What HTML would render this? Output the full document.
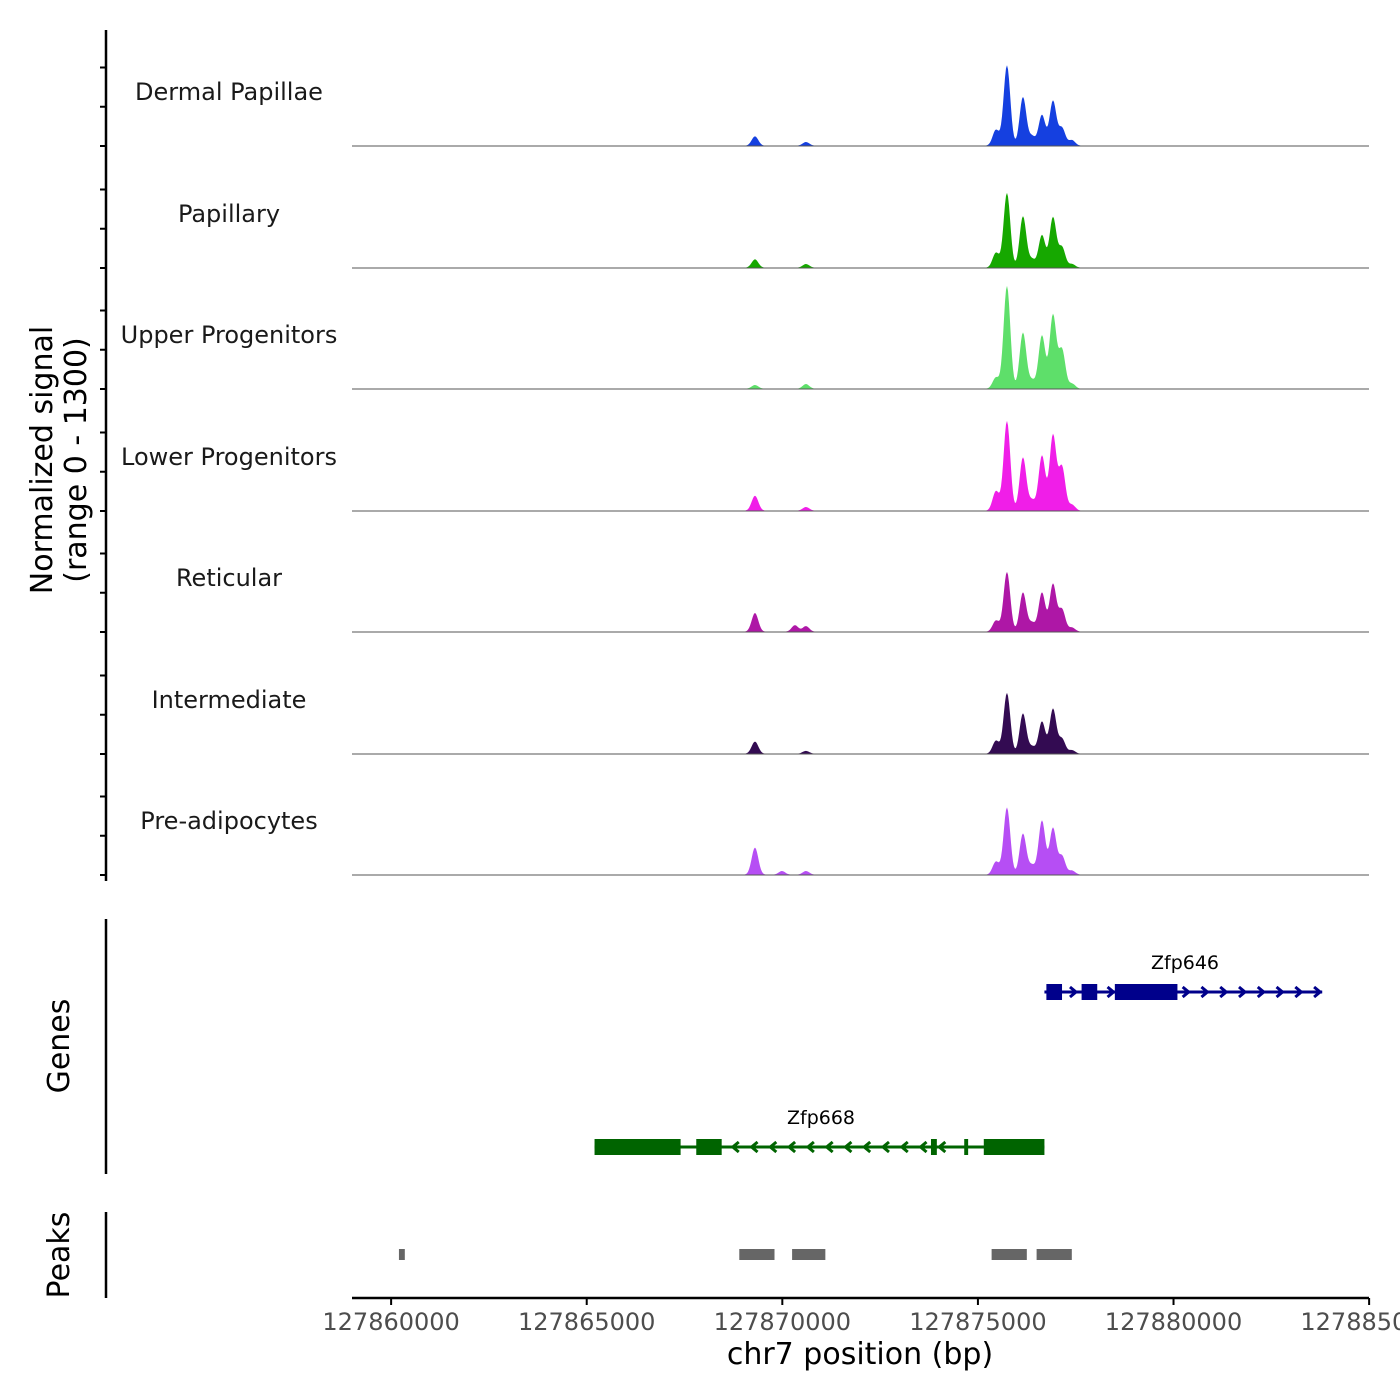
<!DOCTYPE html>
<html><head><meta charset="utf-8"><style>
body{margin:0;background:#fff}
svg{display:block;font-family:"DejaVu Sans","Liberation Sans",sans-serif}
</style></head><body>
<svg id="c" width="1400" height="1400"></svg>
<script>
const trackNames=["Dermal Papillae","Papillary","Upper Progenitors","Lower Progenitors","Reticular","Intermediate","Pre-adipocytes"];
const trackColors=["#1540E0","#16A800","#5EDF6A","#F01EE8","#AE17A6","#330B52","#B64EF4"];
const peakPos=[127869301,127869990,127870323,127870604,127875461,127875742,127876151,127876381,127876637,127876918,127877148,127877403];
const sigDP=[100,0,0,40,170,860,520,100,330,480,190,60];
const sigPap=[90,0,0,40,160,800,550,90,350,540,220,40];
const sigUpper=[40,0,0,50,120,1100,600,90,570,790,420,55];
const sigLower=[160,0,0,40,210,960,570,110,590,810,470,65];
const sigRet=[200,0,70,60,120,640,420,95,420,510,240,45];
const sigInt=[130,0,0,30,140,650,430,75,345,480,160,38];
const sigPre=[290,40,0,40,140,720,440,100,580,500,200,45];
const series=[sigDP,sigPap,sigUpper,sigLower,sigRet,sigInt,sigPre];
const xTicks=[127860000,127865000,127870000,127875000,127880000,127885000];
const gene646Exons=[[127876750,127877150],[127877650,127878050],[127878500,127880100]];
const gene646Range=[127876700,127883800];
const gene668Exons=[[127865200,127867400],[127867800,127868450],[127873800,127873950],[127874650,127874750],[127875150,127876700]];
const gene668Range=[127865200,127876700];
const peakRegions=[[127860200,127860350],[127868900,127869800],[127870250,127871100],[127875350,127876250],[127876500,127877400]];

const NS="http://www.w3.org/2000/svg",svg=document.getElementById('c');
function el(t,a,p){const e=document.createElementNS(NS,t);for(const k in a)e.setAttribute(k,a[k]);(p||svg).appendChild(e);return e;}
const X0=127859000,PX=195.6/5000;
function x(bp){return 352+(bp-X0)*PX;}
const baselines=[146,268,389,511,632,754,875],TH=121.5,YMAX=1300;
function y(v,i){return baselines[i]-v/YMAX*TH;}

let a=el('line',{x1:106,y1:30,x2:106,y2:881,stroke:'#000','stroke-width':2.5});

baselines.forEach((b,i)=>{[0,420,840].forEach(v=>{el('line',{x1:100,x2:106,y1:y(v,i),y2:y(v,i),stroke:'#000','stroke-width':2});});});
trackNames.forEach((n,i)=>{
 const g=el('g',{});
 
 
 const t=el('text',{x:229,y:baselines[i]-46,'text-anchor':'middle','font-size':24,fill:'#1a1a1a'},g);t.textContent=n;
 
 const pts=[];const vals=series[i];
 for(let px=352;px<=1369;px+=1){
  const bp=X0+(px-352)/PX;let v=3;
  peakPos.forEach((p,k)=>{const d=(bp-p)/85;v+=vals[k]*Math.exp(-d*d/2);});
  pts.push(px+','+y(v,i).toFixed(1));
 }
 const ar=el('polygon',{points:'352,'+baselines[i]+' '+pts.join(' ')+' 1369,'+baselines[i],fill:trackColors[i]},g);
 
 el('line',{x1:352,x2:1369,y1:baselines[i],y2:baselines[i],stroke:'#555','stroke-width':1},g);
});
function txt(s,at,name){const t=el('text',at);t.textContent=s;return t;}
txt('Normalized signal',{x:0,y:0,transform:'translate(52,460) rotate(-90)','text-anchor':'middle','font-size':30,fill:'#000'},'y-axis-title');
txt('(range 0 - 1300)',{x:0,y:0,transform:'translate(86,460) rotate(-90)','text-anchor':'middle','font-size':30,fill:'#000'},'y-axis-subtitle');
a=el('line',{x1:106,y1:919,x2:106,y2:1174,stroke:'#000','stroke-width':2.5});
txt('Genes',{x:0,y:0,transform:'translate(69,1046) rotate(-90)','text-anchor':'middle','font-size':30,fill:'#000'},'genes-title');
function gene(name,range,exons,yy,col,dir){
 const g=el('g',{});
 el('line',{x1:x(range[0]),x2:x(range[1]),y1:yy,y2:yy,stroke:col,'stroke-width':3},g);
 for(let bp=range[0]+250;bp<range[1];bp+=480){
  const cx=x(bp);let inEx=exons.some(e=>bp>=e[0]-100&&bp<=e[1]+100);if(inEx)continue;
  el('polyline',{points:`${cx-3*dir},${yy-5} ${cx+3*dir},${yy} ${cx-3*dir},${yy+5}`,fill:'none',stroke:col,'stroke-width':3},g);
 }
 exons.forEach(e=>{const r=el('rect',{x:x(e[0]),y:yy-8,width:Math.max(3,x(e[1])-x(e[0])),height:16,fill:col},g);});
 const t=el('text',{x:0,y:yy-23,'text-anchor':'middle','font-size':19,fill:'#000'},g);t.textContent=name;
 return t;
}
let t1=gene('Zfp646',gene646Range,gene646Exons,992,'#00008B',1);t1.setAttribute('x',1185);
let t2=gene('Zfp668',gene668Range,gene668Exons,1147,'#006400',-1);t2.setAttribute('x',821);
a=el('line',{x1:106,y1:1212,x2:106,y2:1298,stroke:'#000','stroke-width':2.5});
txt('Peaks',{x:0,y:0,transform:'translate(69,1255) rotate(-90)','text-anchor':'middle','font-size':30,fill:'#000'},'peaks-title');
peakRegions.forEach(p=>{const r=el('rect',{x:x(p[0]),y:1249,width:x(p[1])-x(p[0]),height:11,fill:'#666'});});
a=el('line',{x1:352,x2:1369,y1:1298,y2:1298,stroke:'#000','stroke-width':2.5});
xTicks.forEach(v=>{el('line',{x1:x(v),x2:x(v),y1:1298,y2:1305,stroke:'#000','stroke-width':2});
 txt(String(v),{x:x(v),y:1330,'text-anchor':'middle','font-size':24,fill:'#4d4d4d'},'x-tick-label');});
txt('chr7 position (bp)',{x:860,y:1364,'text-anchor':'middle','font-size':30,fill:'#000'},'x-axis-title');
</script>
</body></html>
